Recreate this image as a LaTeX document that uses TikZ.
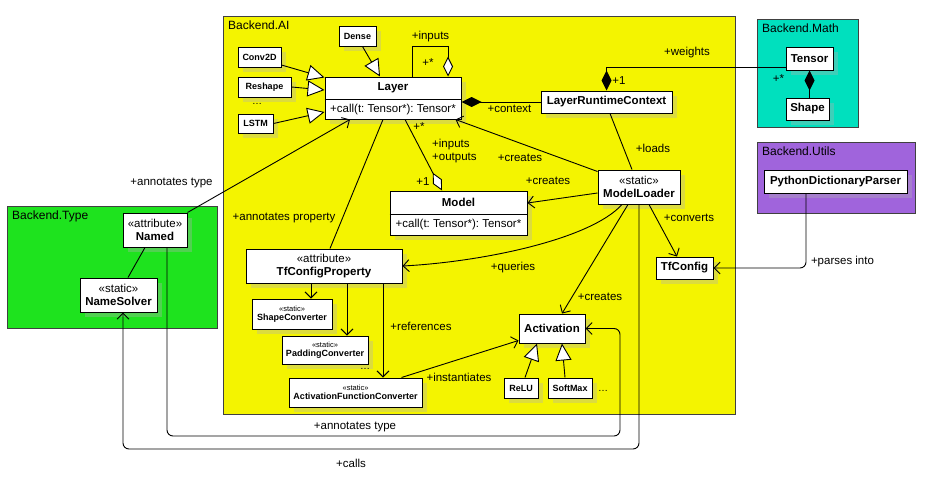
\documentclass[tikz,border=0pt]{standalone}
\usepackage{fontspec}
\setmainfont{Liberation Sans}
\frenchspacing
\usetikzlibrary{arrows.meta,shadows}
\definecolor{aiY}{HTML}{F4F400}
\definecolor{typeG}{HTML}{1EE31E}
\definecolor{mathT}{HTML}{00E0BE}
\definecolor{utilP}{HTML}{A064DC}
\tikzset{
 pkg/.style={draw=black!75, line width=1.2pt, inner sep=0pt, anchor=north west},
 cls/.style={draw=black, fill=white, line width=1pt, inner sep=0pt, align=center,
   drop shadow={shadow xshift=5pt, shadow yshift=-5pt, fill=gray!60, opacity=0.35}},
 ttl/.style={font=\fontsize{11.5}{13}\selectfont\bfseries, inner sep=0pt},
 sm/.style={font=\fontsize{9}{10.5}\selectfont\bfseries},
 ster/.style={font=\fontsize{11.5}{12.5}\selectfont},
 smster/.style={font=\fontsize{9}{9.5}\selectfont},
 lbl/.style={font=\fontsize{11.5}{12.5}\selectfont, inner sep=0pt},
 pkgttl/.style={font=\fontsize{12}{13}\selectfont, inner sep=0pt, anchor=north west},
 conn/.style={line width=0.9pt},
 assoc/.style={conn, -{Straight Barb[length=6pt,width=12pt]}},
 gen/.style={conn, -{Triangle[length=17pt,width=16pt,fill=white]}},
 agg/.style={conn, -{Diamond[length=20pt,width=10pt,fill=white]}},
 comp/.style={conn, {Diamond[length=20pt,width=10pt]}-},
}
\begin{document}
\begin{tikzpicture}[x=1pt,y=-1pt]
\fill[white] (0,0) rectangle (929,490);
\useasboundingbox (0,0) rectangle (929,490);
% packages
\node[pkg, fill=aiY, minimum width=512pt, minimum height=398pt] (AI) at (223,16) {};
\node[pkgttl] at ([xshift=5pt,yshift=-5pt]AI.north west) {Backend.AI};
\node[pkg, fill=mathT, minimum width=101pt, minimum height=108pt] (MATH) at (757,19) {};
\node[pkgttl] at ([xshift=5pt,yshift=-5pt]MATH.north west) {Backend.Math};
\node[pkg, fill=utilP, minimum width=158pt, minimum height=71pt] (UTIL) at (757,142) {};
\node[pkgttl] at ([xshift=5pt,yshift=-5pt]UTIL.north west) {Backend.Utils};
\node[pkg, fill=typeG, minimum width=210pt, minimum height=122pt] (TYPE) at (7,206) {};
\node[pkgttl] at ([xshift=5pt,yshift=-5pt]TYPE.north west) {Backend.Type};

% classes
\node[cls, sm, minimum width=37pt, minimum height=20pt] (Dense) at (357.5,36) {Dense};
\node[cls, sm, minimum width=43pt, minimum height=20pt] (Conv) at (259.5,57) {Conv2D};
\node[cls, sm, minimum width=53pt, minimum height=20pt] (Reshape) at (264.5,87) {Reshape};
\node[cls, sm, minimum width=35pt, minimum height=19pt] (LSTM) at (255.5,123.5) {LSTM};
\node[lbl, font=\fontsize{10}{10}\selectfont] (dots1) at (257,104) {\dots};

\node[cls, minimum width=136pt, minimum height=42pt] (Layer) at (393,98) {};
\node[ttl] (LayerT) at (393,88) {Layer};
\draw[line width=1pt] ([yshift=-1pt]Layer.west) -- ([yshift=-1pt]Layer.east);
\node[lbl] (LayerM) at (393,109.5) {+call(t: Tensor*): Tensor*};

\node[cls, ttl, minimum width=131pt, minimum height=22pt] (LRC) at (606.5,102) {LayerRuntimeContext};
\node[cls, ttl, minimum width=47pt, minimum height=23pt] (Tensor) at (809.5,58.5) {Tensor};
\node[cls, ttl, minimum width=43pt, minimum height=22pt] (Shape) at (807.5,109) {Shape};
\node[cls, ttl, minimum width=143pt, minimum height=23pt] (PDP) at (835.5,181.5) {PythonDictionaryParser};
\node[cls, ster, minimum width=82pt, minimum height=34pt] (ML) at (639,187) {«static»\\\textbf{ModelLoader}};

\node[cls, minimum width=137pt, minimum height=44pt] (Model) at (458.5,213) {};
\node[ttl] (ModelT) at (458.5,202.5) {Model};
\draw[line width=1pt] ([yshift=-1pt]Model.west) -- ([yshift=-1pt]Model.east);
\node[lbl] (ModelM) at (458.5,224.5) {+call(t: Tensor*): Tensor*};

\node[cls, ttl, minimum width=57pt, minimum height=22pt] (TfC) at (684.5,268) {TfConfig};
\node[cls, ttl, minimum width=66pt, minimum height=29pt] (Act) at (552,328.5) {Activation};
\node[cls, sm, minimum width=34pt, minimum height=20pt] (ReLU) at (521,388) {ReLU};
\node[cls, sm, minimum width=44pt, minimum height=20pt] (Soft) at (570,388) {SoftMax};
\node[lbl, font=\fontsize{10}{10}\selectfont] (dots3) at (603,391) {\dots};

\node[cls, ster, minimum width=156pt, minimum height=34pt] (TCP) at (324,266) {«attribute»\\\textbf{TfConfigProperty}};
\node[cls, smster, minimum width=80pt, minimum height=30pt] (SC) at (292,314) {{\fontsize{7.5}{8}\selectfont«static»}\\\textbf{ShapeConverter}};
\node[cls, smster, minimum width=86pt, minimum height=28pt] (PC) at (325,350) {{\fontsize{7.5}{8}\selectfont«static»}\\\textbf{PaddingConverter}};
\node[cls, smster, minimum width=133pt, minimum height=29pt] (AFC) at (355.5,392.5) {{\fontsize{7.5}{8}\selectfont«static»}\\\textbf{ActivationFunctionConverter}};
\node[lbl, font=\fontsize{10}{10}\selectfont] (dots2) at (365,369) {\dots};

\node[cls, ster, minimum width=64pt, minimum height=34pt] (Named) at (155,230) {«attribute»\\\textbf{Named}};
\node[cls, ster, minimum width=77pt, minimum height=34pt] (NS) at (118.5,295) {«static»\\\textbf{NameSolver}};

% generalizations
\draw[gen] (Conv.-20) -- ([yshift=-1pt]Layer.north west);
\draw[gen] (Reshape.east) -- ([yshift=8pt]Layer.west);
\draw[gen] (LSTM.east) -- ([yshift=-14pt]Layer.west);
\draw[gen] ([xshift=5pt]Dense.south) -- ([xshift=-13pt]Layer.north);
\draw[gen] ([xshift=4pt]ReLU.north) -- ([xshift=-15pt]Act.south);
\draw[gen] ([xshift=-5pt]Soft.north) -- ([xshift=10pt]Act.south);

% self loop
\draw[agg] ([xshift=19pt]Layer.north) -- ++(0,-30) -| ([xshift=55pt]Layer.north);
\node[lbl] at (430.5,37) {+inputs};
\node[lbl] at (428,63) {+*};

% Layer - LRC
\draw[comp] ([yshift=-4pt]Layer.east) -- (LRC.west);
\node[lbl] at (509.5,109) {+context};

% weights
\draw[comp] (LRC.north) |- ([yshift=-8.5pt]Tensor.west);
\node[lbl] at (687,53) {+weights};
\node[lbl] at (619,81) {+1};
\node[lbl] at (778.5,79) {+*};

% Tensor - Shape
\draw[comp] (Tensor.south) -- (Tensor.south |- Shape.north);

% PDP -> TfConfig
\draw[assoc, rounded corners=6pt] ([xshift=-29.5pt]PDP.south) |- (TfC.east);
\node[lbl] at (842.5,262) {+parses into};

% ModelLoader connectors
\draw[assoc] ([xshift=10pt]ML.south) -- ([xshift=-7.5pt]TfC.north);
\node[lbl] at (689,218) {+converts};
\draw[assoc] ([xshift=-11pt]ML.south) -- ([xshift=10pt]Act.north);
\node[lbl] at (600,297) {+creates};
\draw[assoc] ([yshift=-6pt]ML.west) -- ([yshift=10pt]Model.east);
\node[lbl] at (548,181) {+creates};
\draw[assoc] ([yshift=-2pt]ML.north west) -- ([xshift=-6pt]Layer.south east);
\node[lbl] at (520,158) {+creates};
\draw[conn] ([xshift=3.5pt]LRC.south) -- ([xshift=-7pt]ML.north);
\node[lbl] at (653,148) {+loads};
\draw[assoc] ([xshift=-17pt]ML.south) .. controls (590,240) and (480,262) .. (TCP.east);
\node[lbl] at (513,268) {+queries};

% Layer - Model
\draw[agg] ([xshift=12pt]Layer.south) -- ([xshift=-16.5pt]Model.north);
\node[lbl] at (419,127) {+*};
\node[lbl, anchor=west] at (432,145) {+inputs};
\node[lbl, anchor=west] at (432,158) {+outputs};
\node[lbl] at (423,182) {+1};

% Layer - TfConfigProperty
\draw[conn] ([xshift=-10pt]Layer.south) -- ([xshift=6pt]TCP.north);
\node[lbl] at (284,218) {+annotates property};

% Named -> Layer
\draw[assoc] (Named.north east) -- ([xshift=-43pt]Layer.south);
\node[lbl] at (171.5,183) {+annotates type};
\draw[conn] ([xshift=-10pt]Named.south) -- ([xshift=9.5pt]NS.north);

% TCP -> converters
\draw[assoc] ([xshift=-13pt]TCP.south) -- ([xshift=-13pt]TCP.south |- SC.north);
\draw[assoc] ([xshift=23pt]TCP.south) -- ([xshift=23pt]TCP.south |- PC.north);
\draw[assoc] ([xshift=59pt]TCP.south) -- ([xshift=59pt]TCP.south |- AFC.north);
\node[lbl] at (421,326) {+references};

% AFC -> Activation
\draw[assoc] ([xshift=-21pt]AFC.north east) -- ([yshift=3pt]Act.south west);
\node[lbl] at (459,377) {+instantiates};

% long routes
\coordinate (cA) at (620,436);
\draw[assoc, rounded corners=6pt] ([xshift=12pt]Named.south) |- (cA) |- (Act.east);
\node[lbl] at (355,427) {+annotates type};
\coordinate (cB) at (0,449);
\draw[assoc, rounded corners=6pt] (ML.south) -- (ML.south |- cB) -| ([xshift=4.5pt]NS.south);
\node[lbl] at (351,463) {+calls};
\end{tikzpicture}
\end{document}
